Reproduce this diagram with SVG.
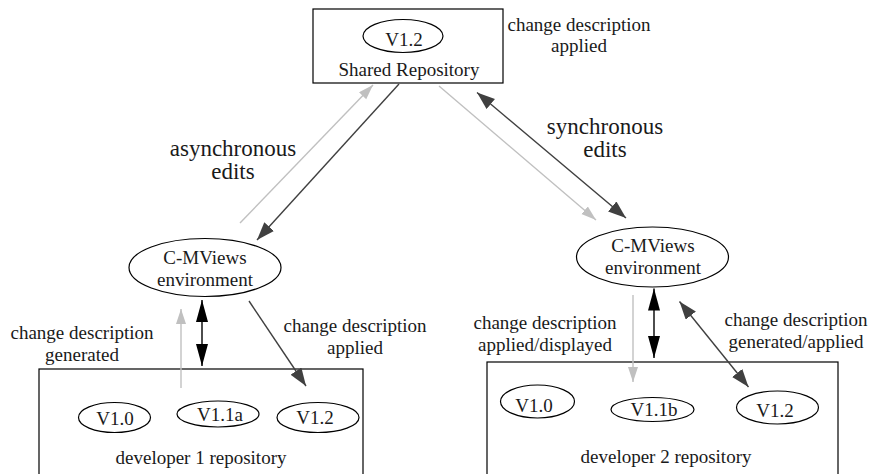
<svg xmlns="http://www.w3.org/2000/svg" width="872" height="474" viewBox="0 0 872 474">
<style>
text{font-family:"Liberation Serif","Times New Roman",serif;fill:#1a1a1a;text-anchor:middle;font-size:19px}
.big{font-size:23px}
.box{fill:#fff;stroke:#000;stroke-width:1.2}
.ell{fill:#fff;stroke:#000;stroke-width:1.2}
.g{stroke:#c0c0c0;stroke-width:1.4;fill:none}
.d{stroke:#404040;stroke-width:1.4;fill:none}
.k{stroke:#000;stroke-width:1.4;fill:none}
</style>
<defs>
<marker id="mg" markerUnits="userSpaceOnUse" markerWidth="16" markerHeight="12" refX="15" refY="5" orient="auto-start-reverse"><path d="M0,0 L15,5 L0,10 z" fill="#c0c0c0"/></marker>
<marker id="md" markerUnits="userSpaceOnUse" markerWidth="19" markerHeight="14" refX="18" refY="6.5" orient="auto-start-reverse"><path d="M0,0 L18,6.5 L0,13 z" fill="#404040"/></marker>
<marker id="mk" markerUnits="userSpaceOnUse" markerWidth="23" markerHeight="13" refX="22" refY="6" orient="auto-start-reverse"><path d="M0,0 L22,6 L0,12 z" fill="#000"/></marker>
</defs>

<g id="shared-repository">
<rect class="box" x="313" y="9" width="190" height="74"/>
<ellipse class="ell" cx="403" cy="36" rx="40" ry="16.5"/>
<text x="404" y="46">V1.2</text>
<text x="409" y="76">Shared Repository</text>
</g>
<g id="label-top-right">
<text x="579" y="31">change description</text>
<text x="579" y="52">applied</text>
</g>

<g id="cmviews-1">
<ellipse class="ell" cx="205" cy="267.5" rx="76" ry="29"/>
<text x="205" y="264">C-MViews</text>
<text x="205" y="286">environment</text>
</g>
<g id="cmviews-2">
<ellipse class="ell" cx="652.5" cy="257" rx="76" ry="30"/>
<text x="653" y="252">C-MViews</text>
<text x="653" y="274">environment</text>
</g>

<g id="developer-1-repository">
<rect class="box" x="39" y="369" width="324" height="120"/>
<ellipse class="ell" cx="114.5" cy="417.5" rx="36" ry="15"/>
<text x="115" y="425">V1.0</text>
<ellipse class="ell" cx="218" cy="414" rx="41" ry="13"/>
<text x="220" y="421">V1.1a</text>
<ellipse class="ell" cx="318" cy="417.5" rx="41" ry="15"/>
<text x="315" y="424">V1.2</text>
<text x="201" y="464">developer 1 repository</text>
</g>

<g id="developer-2-repository">
<rect class="box" x="487" y="362" width="351" height="130"/>
<ellipse class="ell" cx="537.5" cy="401.5" rx="37" ry="16.5"/>
<text x="534" y="411.5">V1.0</text>
<ellipse class="ell" cx="652.5" cy="409.5" rx="41.5" ry="12"/>
<text x="654" y="415.5">V1.1b</text>
<ellipse class="ell" cx="777.5" cy="407.5" rx="41" ry="16.5"/>
<text x="775" y="416.5">V1.2</text>
<text x="666" y="462.5">developer 2 repository</text>
</g>

<g id="labels">
<text class="big" x="233" y="156">asynchronous</text>
<text class="big" x="233" y="179">edits</text>
<text class="big" x="605" y="134">synchronous</text>
<text class="big" x="605" y="157">edits</text>
<text x="82" y="339">change description</text>
<text x="82" y="361">generated</text>
<text x="355" y="332">change description</text>
<text x="355" y="354">applied</text>
<text x="545" y="329">change description</text>
<text x="545" y="351">applied/displayed</text>
<text x="796" y="326">change description</text>
<text x="796" y="348">generated/applied</text>
</g>

<g id="connectors">
<line class="g" x1="240" y1="223" x2="373" y2="85" marker-end="url(#mg)"/>
<line class="d" x1="399" y1="84" x2="257" y2="240" marker-end="url(#md)"/>
<line class="g" x1="439" y1="86" x2="596" y2="220" marker-end="url(#mg)"/>
<line class="d" x1="477" y1="92.5" x2="626" y2="218" marker-start="url(#md)" marker-end="url(#md)"/>
<line class="g" x1="181" y1="388" x2="181" y2="309" marker-end="url(#mg)"/>
<line class="k" x1="202" y1="300" x2="202" y2="366" marker-start="url(#mk)" marker-end="url(#mk)"/>
<line class="d" x1="249" y1="301" x2="306" y2="386" marker-end="url(#md)"/>
<line class="g" x1="633" y1="295" x2="633" y2="382" marker-end="url(#mg)"/>
<line class="k" x1="654" y1="288.5" x2="654" y2="358" marker-start="url(#mk)" marker-end="url(#mk)"/>
<line class="d" x1="679.5" y1="301.5" x2="748.5" y2="387" marker-start="url(#md)" marker-end="url(#md)"/>
</g>
</svg>
